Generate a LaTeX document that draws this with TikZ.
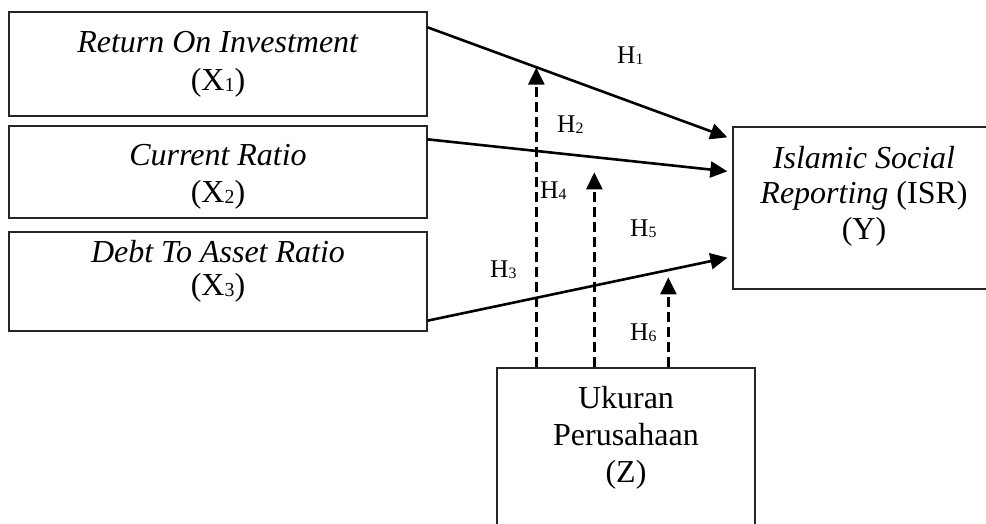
\documentclass[tikz,border=0pt]{standalone}
\usepackage{fontspec}
\setmainfont{Liberation Serif}
\usetikzlibrary{arrows.meta,calc}
% small lowered index, as in X1, H1
\newcommand\idx[1]{\raisebox{-0.06em}{\scalebox{0.62}{#1}}}

\begin{document}
\begin{tikzpicture}[x=1pt,y=-1pt,
  box/.style={draw=black!85, line width=1.3pt, inner sep=0pt},
  txt/.style={inner sep=0pt, anchor=base, font=\fontsize{32}{38}\selectfont},
  hlab/.style={inner sep=0pt, anchor=base west, font=\fontsize{25.5}{30}\selectfont},
  effect/.style={line width=2.6pt, -{Triangle[length=17pt,width=16pt]}},
  moder/.style={line width=2.6pt, dash pattern=on 10pt off 5pt, -{Triangle[length=17pt,width=16pt]}}]

\clip (0,0) rectangle (986,523);

% boxes
\node[box, minimum width=418pt, minimum height=104pt] (x1) at (218,64) {};
\node[box, minimum width=418pt, minimum height=92pt]  (x2) at (218,172) {};
\node[box, minimum width=418pt, minimum height=99pt]  (x3) at (218,281.5) {};
\node[box, minimum width=262pt, minimum height=162pt] (y)  at (864,208) {};
\node[box, minimum width=258pt, minimum height=172pt] (z)  at (626,454) {};

% box texts
\node[txt] (x1a) at (218,52)  {\textit{Return On Investment}};
\node[txt] (x1b) at (218,90)  {(X\idx{1})};
\node[txt] (x2a) at (218,165) {\textit{Current Ratio}};
\node[txt] (x2b) at (218,202) {(X\idx{2})};
\node[txt] (x3a) at (218,262) {\textit{Debt To Asset Ratio}};
\node[txt] (x3b) at (218,295) {(X\idx{3})};
\node[txt] (ya)  at (864,168) {\textit{Islamic Social}};
\node[txt] (yb)  at (864,203) {\textit{Reporting} (ISR)};
\node[txt] (yc)  at (864,239) {(Y)};
\node[txt] (za)  at (626,408) {Ukuran};
\node[txt] (zb)  at (626,445) {Perusahaan};
\node[txt] (zc)  at (626,482) {(Z)};

% direct effects
\coordinate (s1) at ([yshift=-16pt]x1.north east);
\coordinate (e1) at ([xshift=-5pt,yshift=-11pt]y.north west);
\coordinate (s2) at ([yshift=-14pt]x2.north east);
\coordinate (e2) at ([xshift=-5pt,yshift=-45pt]y.north west);
\coordinate (s3) at ([yshift=11pt]x3.south east);
\coordinate (e3) at ([xshift=-5pt,yshift=32pt]y.south west);
\draw[effect] (s1) -- (e1);
\draw[effect] (s2) -- (e2);
\draw[effect] (s3) -- (e3);

% moderating effects
\coordinate (d1) at ([xshift=40pt]z.north west);
\coordinate (d2) at ([xshift=98pt]z.north west);
\coordinate (d3) at ([xshift=172pt]z.north west);
\coordinate (m1) at ($(s1)!0.3654!(e1)$);
\draw[moder] (d1) -- (d1 |- m1);
\draw[moder] (d2) -- ++(0,-195);
\draw[moder] (d3) -- ++(0,-90);

% hypothesis labels
\node[hlab] (h1) at (617,63)  {H\idx{1}};
\node[hlab] (h2) at (557,132) {H\idx{2}};
\node[hlab] (h4) at (540,198) {H\idx{4}};
\node[hlab] (h5) at (630,236) {H\idx{5}};
\node[hlab] (h3) at (490,277) {H\idx{3}};
\node[hlab] (h6) at (630,340) {H\idx{6}};
\end{tikzpicture}
\end{document}
